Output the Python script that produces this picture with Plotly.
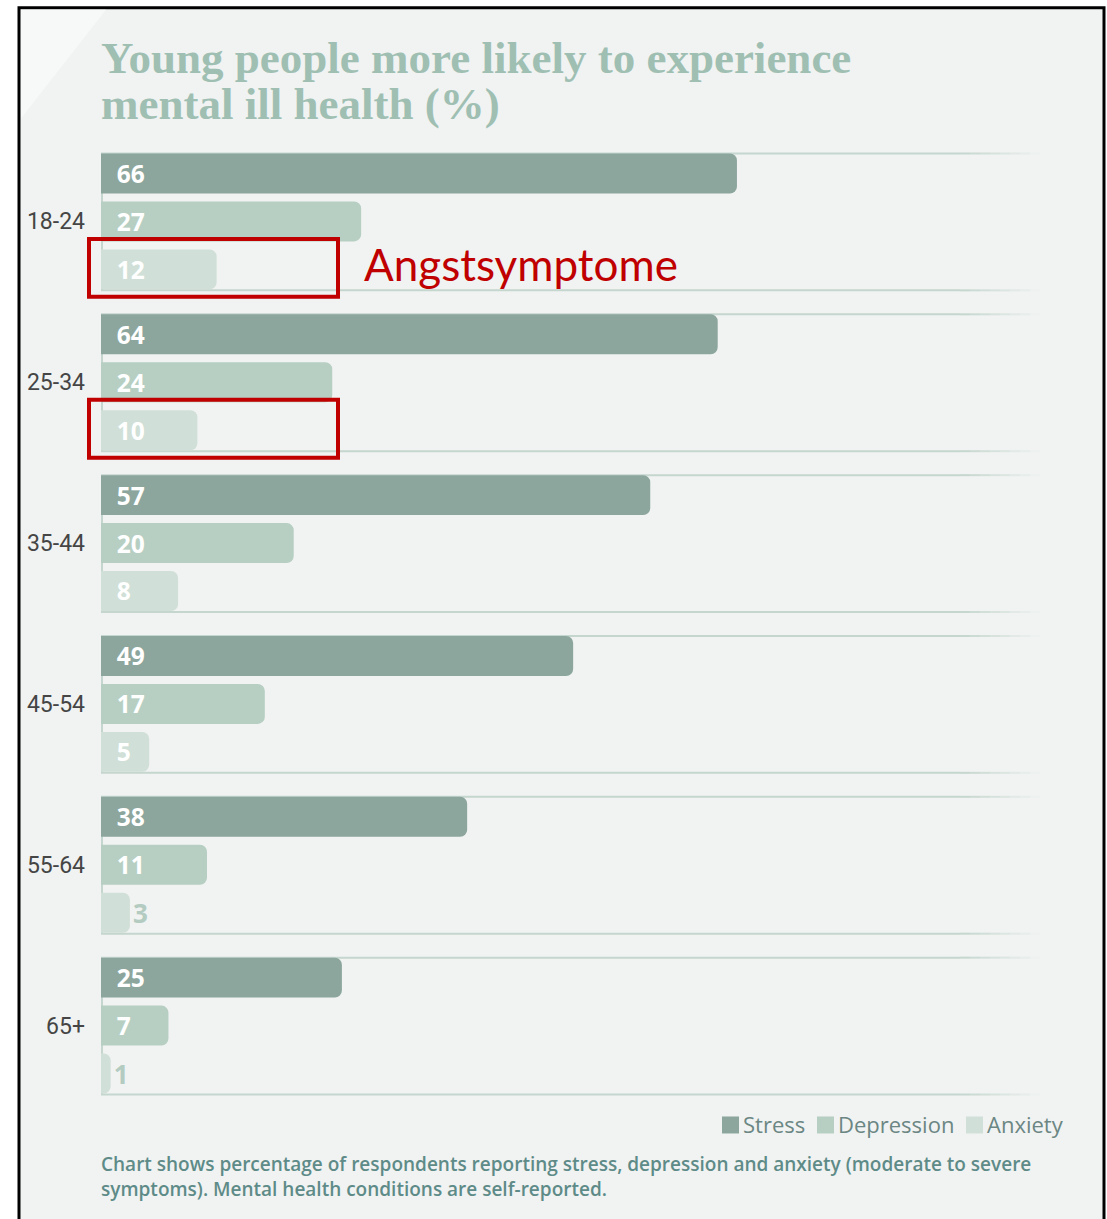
import plotly.graph_objects as go

# ---- data -------------------------------------------------------------
ages = ["18-24", "25-34", "35-44", "45-54", "55-64", "65+"]
stress = [66, 64, 57, 49, 38, 25]
depression = [27, 24, 20, 17, 11, 7]
anxiety = [12, 10, 8, 5, 3, 1]

series_names = ["Stress", "Depression", "Anxiety"]
series_values = [stress, depression, anxiety]
series_colors = ["#8ca69e", "#b7cfc3", "#d0dfd7"]

title_lines = ["Young people more likely to experience", "mental ill health (%)"]
note_lines = [
    "Chart shows percentage of respondents reporting stress, depression and anxiety (moderate to severe",
    "symptoms). Mental health conditions are self-reported.",
]
callout_text = "Angstsymptome"
callout_groups = ["18-24", "25-34"]

# ---- layout geometry (pixels) -------------------------------------------
W, H = 1107, 1219
L, R, T, B = 101, 67, 140.5, 112.5
PLOT_W, PLOT_H = W - L - R, H - T - B
X_MAX = 97.45
PITCH = PLOT_H / len(ages)          # height of one age group
SLOT = 48                           # spacing of bars inside a group

BG = "#f0f3f2"
LINE = "#c4d6cd"


def px_x(px):
    return (px - L) / PLOT_W


def px_y(py):
    return 1 - (py - T) / PLOT_H


def cat_py(idx):
    return T + (idx + 0.5) * PITCH


fig = go.Figure()

# ---- bars -----------------------------------------------------------------
for name, vals, color in zip(series_names, series_values, series_colors):
    labels = [("&nbsp;&nbsp;" + str(v)) if v >= 4 else str(v) for v in vals]
    positions = ["inside" if v >= 4 else "outside" for v in vals]
    fig.add_trace(go.Bar(
        y=ages, x=vals, orientation="h", name=name,
        marker=dict(color=color, cornerradius=7, line=dict(width=0)),
        text=labels, textposition=positions, insidetextanchor="start",
        textangle=0,
        insidetextfont=dict(family="Open Sans", size=26, color="white", weight=700),
        outsidetextfont=dict(family="Open Sans", size=26, color="#b3cbc0", weight=700),
        constraintext="none", cliponaxis=False,
        hoverinfo="skip", showlegend=False,
    ))

shapes = []

# outer frame and panel background
shapes.append(dict(type="rect", xref="paper", yref="paper", layer="below",
                   x0=px_x(19), x1=px_x(1104), y0=px_y(7), y1=px_y(1230),
                   fillcolor=BG, line=dict(color="black", width=3)))
shapes.append(dict(type="path", xref="paper", yref="paper", layer="below",
                   path=f"M {px_x(21)},{px_y(9)} L {px_x(106)},{px_y(9)} L {px_x(21)},{px_y(118)} Z",
                   fillcolor="#f7f9f8", line=dict(width=0)))

# group outlines: top and bottom rules fading out on the right, left edge
top_off, bot_off = 12.5, 149.5
for i in range(len(ages)):
    y_top = T + i * PITCH + top_off
    y_bot = T + i * PITCH + bot_off
    for yy in (y_top, y_bot):
        shapes.append(dict(type="line", xref="paper", yref="paper", layer="below",
                           x0=px_x(101), x1=px_x(960), y0=px_y(yy), y1=px_y(yy),
                           line=dict(color=LINE, width=2)))
        steps = 8
        for s in range(steps):
            xa = 960 + s * 80 / steps
            xb = 960 + (s + 1) * 80 / steps
            shapes.append(dict(type="line", xref="paper", yref="paper", layer="below",
                               x0=px_x(xa), x1=px_x(xb), y0=px_y(yy), y1=px_y(yy),
                               opacity=1 - (s + 0.5) / steps,
                               line=dict(color=LINE, width=2)))
    shapes.append(dict(type="line", xref="paper", yref="paper", layer="below",
                       x0=px_x(102), x1=px_x(102), y0=px_y(y_top), y1=px_y(y_bot),
                       line=dict(color=LINE, width=2)))

# red highlight boxes around the anxiety bars of the youngest groups
for g in callout_groups:
    idx = ages.index(g)
    cy = cat_py(idx) + SLOT - 1.5
    shapes.append(dict(type="rect", xref="paper", yref="paper", layer="above",
                       x0=px_x(89), x1=px_x(338), y0=px_y(cy - 29), y1=px_y(cy + 29),
                       fillcolor="rgba(0,0,0,0)", line=dict(color="#c00000", width=4)))

# legend swatches
legend_x = [722, 817, 966]
for lx, color in zip(legend_x, series_colors):
    shapes.append(dict(type="rect", xref="paper", yref="paper",
                       x0=px_x(lx), x1=px_x(lx + 17), y0=px_y(1117), y1=px_y(1134),
                       fillcolor=color, line=dict(width=0)))

annotations = []
title_font = dict(family="Liberation Serif", size=45, color="#a0bfb3", weight=700)
for k, line in enumerate(title_lines):
    annotations.append(dict(xref="paper", yref="paper", x=px_x(99), y=px_y(57 + 46 * k),
                            xanchor="left", yanchor="middle", showarrow=False,
                            text=line, font=title_font))

annotations.append(dict(xref="paper", yref="paper", x=px_x(362), y=px_y(264),
                        xanchor="left", yanchor="middle", showarrow=False,
                        text=callout_text,
                        font=dict(family="Lato", size=44, color="#c00000")))

for lx, name in zip(legend_x, series_names):
    annotations.append(dict(xref="paper", yref="paper", x=px_x(lx + 19), y=px_y(1125),
                            xanchor="left", yanchor="middle", showarrow=False,
                            text=name,
                            font=dict(family="Open Sans", size=22, color="#6b8683")))

for k, line in enumerate(note_lines):
    annotations.append(dict(xref="paper", yref="paper", x=px_x(99), y=px_y(1165 + 25 * k),
                            xanchor="left", yanchor="middle", showarrow=False,
                            text=line,
                            font=dict(family="Open Sans", size=19, color="#5e8b88", weight=600)))

fig.update_layout(
    width=W, height=H,
    margin=dict(l=L, r=R, t=T, b=B, pad=0),
    paper_bgcolor="white", plot_bgcolor="rgba(0,0,0,0)",
    barmode="group", bargap=(PITCH - 3 * SLOT) / PITCH, bargroupgap=8 / SLOT,
    xaxis=dict(range=[0, X_MAX], visible=False, fixedrange=True),
    yaxis=dict(type="category", categoryorder="array", categoryarray=ages,
               range=[len(ages) - 0.5, -0.5], showgrid=False, zeroline=False,
               showline=False, ticks="", ticklabelstandoff=15,
               tickfont=dict(family="Roboto, sans-serif", size=23, color="#454545")),
    shapes=shapes, annotations=annotations,
    showlegend=False,
)

fig.write_html("out.html")
